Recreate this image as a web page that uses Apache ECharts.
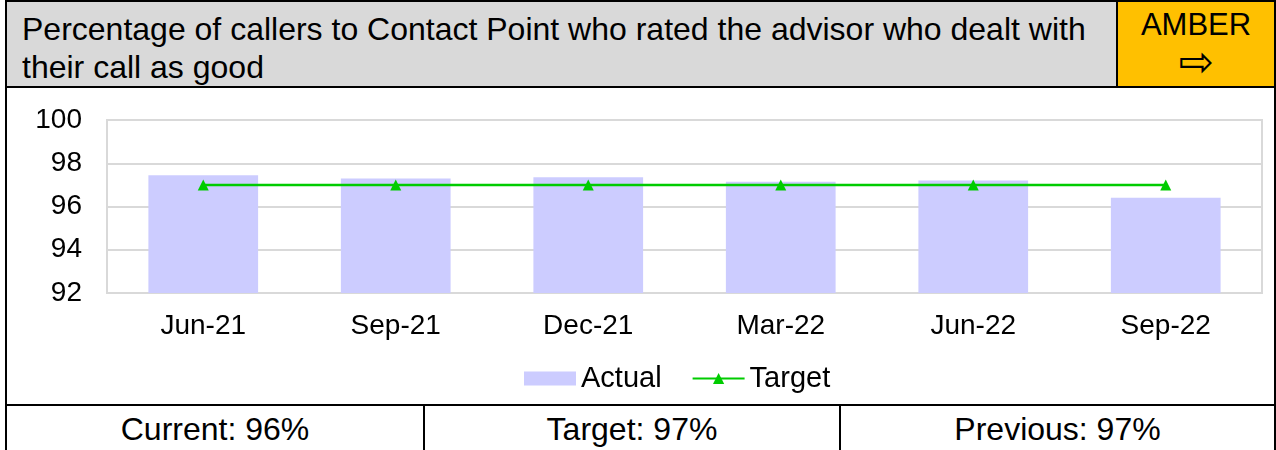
<!DOCTYPE html>
<html>
<head>
<meta charset="utf-8">
<script src="https://cdn.jsdelivr.net/npm/echarts@6/dist/echarts.min.js"></script>
<style>
  body { margin: 0; background: #fff; font-family: 'Liberation Sans', Arial, sans-serif; }
  #frame { position: absolute; left: 5px; top: 0; width: 1271px; height: 452px; box-sizing: border-box; border: 2px solid #000; }
  #header { position: absolute; left: 0; top: 0; width: 1267px; height: 84px; background: #d9d9d9; border-bottom: 2px solid #000; }
  #title { position: absolute; left: 15px; top: 8px; width: 1092px; font-size: 32px; line-height: 38px; color: #000; }
  #status { position: absolute; left: 1109px; top: 0; width: 156px; height: 84px; background: #ffc000; border-left: 2px solid #000; text-align: center; }
  #status .word { font-size: 31px; line-height: 34px; padding-top: 6px; }
  #status .arrow { font-family: 'DejaVu Sans', sans-serif; font-size: 42px; line-height: 40px; margin-top: 0; }
  #chart { position: absolute; left: 0; top: 86px; width: 1267px; height: 316px; }
  #footer { position: absolute; left: 0; top: 402px; width: 1267px; height: 48px; border-top: 2px solid #000; }
  .cell { position: absolute; top: 0; height: 48px; font-size: 32px; line-height: 46px; text-align: center; box-sizing: border-box; }
</style>
</head>
<body>
<div id="frame">
  <div id="header">
    <div id="title">Percentage of callers to Contact Point who rated the advisor who dealt with their call as good</div>
    <div id="status"><div class="word">AMBER</div><div class="arrow">&#8680;</div></div>
  </div>
  <div id="chart"></div>
  <div id="footer">
    <div class="cell" style="left:0;width:418px;border-right:2px solid #000;">Current: 96%</div>
    <div class="cell" style="left:418px;width:416px;border-right:2px solid #000;">Target: 97%</div>
    <div class="cell" style="left:834px;width:433px;">Previous: 97%</div>
  </div>
</div>
<script>
var categories = ['Jun-21', 'Sep-21', 'Dec-21', 'Mar-22', 'Jun-22', 'Sep-22'];
var actual = [97.45, 97.3, 97.35, 97.15, 97.2, 96.4];
var target = [97, 97, 97, 97, 97, 97];

var chart = echarts.init(document.getElementById('chart'));
var font = "'Liberation Sans', Arial, sans-serif";
chart.setOption({
  animation: false,
  textStyle: { fontFamily: font, color: '#000' },
  grid: {
    left: 100, right: 12, top: 32, bottom: 111,
    show: true, borderColor: '#d9d9d9', borderWidth: 2
  },
  legend: {
    top: 271,
    left: 512,
    itemGap: 30,
    itemWidth: 52,
    itemHeight: 14,
    textStyle: { fontSize: 29, color: '#000', fontFamily: font },
    data: [
      { name: 'Actual', icon: 'rect' },
      { name: 'Target' }
    ]
  },
  xAxis: {
    type: 'category',
    data: categories,
    axisLine: { show: false },
    axisTick: { show: false },
    axisLabel: { fontSize: 28, color: '#000', margin: 19, fontFamily: font }
  },
  yAxis: {
    type: 'value',
    min: 92,
    max: 100,
    interval: 2,
    axisLine: { show: false },
    axisTick: { show: false },
    axisLabel: { fontSize: 28, color: '#000', margin: 25, fontFamily: font },
    splitLine: { lineStyle: { color: '#d9d9d9', width: 2 } }
  },
  series: [
    {
      name: 'Actual',
      type: 'bar',
      data: actual,
      barWidth: '57%',
      itemStyle: { color: '#ccccff' }
    },
    {
      name: 'Target',
      type: 'line',
      data: target,
      symbol: 'triangle',
      symbolSize: 11,
      lineStyle: { color: '#00cc00', width: 2.5 },
      itemStyle: { color: '#00cc00' }
    }
  ]
});
</script>
</body>
</html>
